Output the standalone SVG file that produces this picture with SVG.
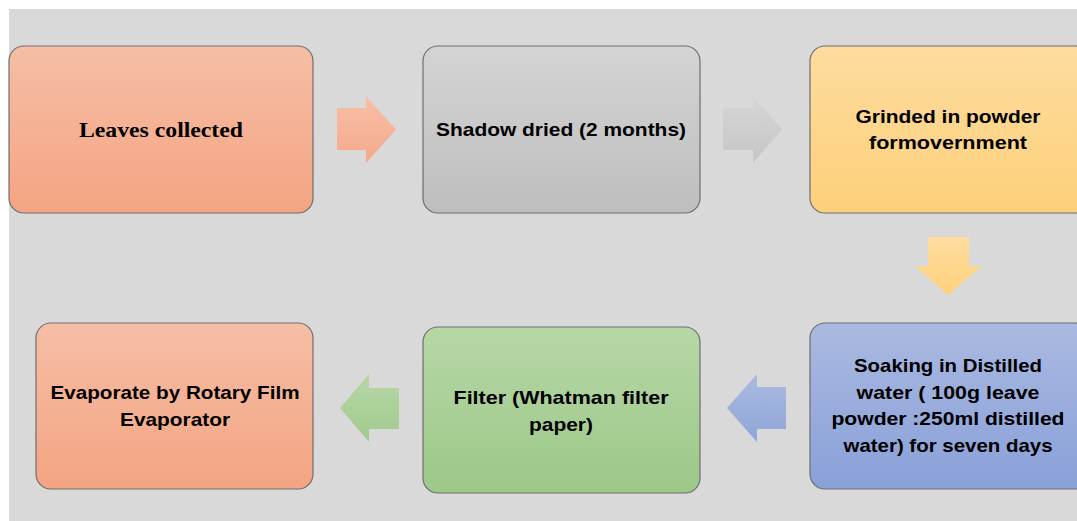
<svg xmlns="http://www.w3.org/2000/svg" width="1077" height="521" viewBox="0 0 1077 521">
<defs>
<linearGradient id="gSalmon" x1="0" y1="0" x2="0" y2="1"><stop offset="0" stop-color="#F6BEA6"/><stop offset="1" stop-color="#F4A482"/></linearGradient>
<linearGradient id="gGray" x1="0" y1="0" x2="0" y2="1"><stop offset="0" stop-color="#D4D4D4"/><stop offset="1" stop-color="#BEBEBE"/></linearGradient>
<linearGradient id="gYellow" x1="0" y1="0" x2="0" y2="1"><stop offset="0" stop-color="#FEDC9E"/><stop offset="1" stop-color="#FDD07A"/></linearGradient>
<linearGradient id="gBlue" x1="0" y1="0" x2="0" y2="1"><stop offset="0" stop-color="#AAB9E1"/><stop offset="1" stop-color="#89A0D8"/></linearGradient>
<linearGradient id="gGreen" x1="0" y1="0" x2="0" y2="1"><stop offset="0" stop-color="#B7D7A7"/><stop offset="1" stop-color="#9CC888"/></linearGradient>
<linearGradient id="aSalmon" x1="0" y1="0" x2="0" y2="1"><stop offset="0" stop-color="#F7BFA7"/><stop offset="1" stop-color="#F5A98A"/></linearGradient>
<linearGradient id="aGray" x1="0" y1="0" x2="0" y2="1"><stop offset="0" stop-color="#D6D6D6"/><stop offset="1" stop-color="#C6C6C6"/></linearGradient>
<linearGradient id="aYellow" x1="0" y1="0" x2="0" y2="1"><stop offset="0" stop-color="#FEDDA0"/><stop offset="1" stop-color="#FED07B"/></linearGradient>
<linearGradient id="aBlue" x1="0" y1="0" x2="0" y2="1"><stop offset="0" stop-color="#AABAE1"/><stop offset="1" stop-color="#8FA5D9"/></linearGradient>
<linearGradient id="aGreen" x1="0" y1="0" x2="0" y2="1"><stop offset="0" stop-color="#B7D7A7"/><stop offset="1" stop-color="#A0CA8C"/></linearGradient>
</defs>
<style>
.box{stroke:#6E6E6E;stroke-width:1.2}
.t{font-family:"Liberation Sans",Arial,sans-serif;font-weight:bold;font-size:19px;fill:#000;text-anchor:middle}
.tr{font-family:"Liberation Serif","Times New Roman",serif;font-weight:bold;font-size:21px;fill:#000;text-anchor:middle}
</style>
<rect x="0" y="0" width="1077" height="521" fill="#FFFFFF"/>
<rect x="9" y="9" width="1068" height="512" fill="#D9D9D9"/>

<g id="connectors">
<polygon points="337,108 366,108 366,96 396,129.5 366,163 366,150 337,150" fill="url(#aSalmon)"/>
<polygon points="723,108 753,108 753,96 782,129.5 753,163 753,150 723,150" fill="url(#aGray)"/>
<polygon points="928,237 969,237 969,266 982,266 948,295 915,266 928,266" fill="url(#aYellow)"/>
<polygon points="786,387 757,387 757,374 727,408 757,442 757,429 786,429" fill="url(#aBlue)"/>
<polygon points="399,388 369,388 369,374 340,408 369,442 369,429 399,429" fill="url(#aGreen)"/>
</g>

<g id="node-leaves">
<rect class="box" x="9" y="46" width="304" height="167" rx="15" fill="url(#gSalmon)"/>
<text class="tr" x="161" y="137" textLength="164" lengthAdjust="spacingAndGlyphs">Leaves collected</text>
</g>

<g id="node-shadow">
<rect class="box" x="423" y="46" width="277" height="167" rx="15" fill="url(#gGray)"/>
<text class="t" x="561" y="136" textLength="250" lengthAdjust="spacingAndGlyphs">Shadow dried (2 months)</text>
</g>

<g id="node-grind">
<rect class="box" x="810" y="46" width="280" height="167" rx="15" fill="url(#gYellow)"/>
<text class="t" x="948" y="123" textLength="185" lengthAdjust="spacingAndGlyphs">Grinded in powder</text>
<text class="t" x="948" y="149" textLength="158" lengthAdjust="spacingAndGlyphs">formovernment</text>
</g>

<g id="node-soak">
<rect class="box" x="810" y="323" width="280" height="166" rx="15" fill="url(#gBlue)"/>
<text class="t" x="948" y="372" textLength="188" lengthAdjust="spacingAndGlyphs">Soaking in Distilled</text>
<text class="t" x="948" y="399" textLength="183" lengthAdjust="spacingAndGlyphs">water ( 100g leave</text>
<text class="t" x="948" y="425" textLength="233" lengthAdjust="spacingAndGlyphs">powder :250ml distilled</text>
<text class="t" x="948" y="452" textLength="209" lengthAdjust="spacingAndGlyphs">water) for seven days</text>
</g>

<g id="node-filter">
<rect class="box" x="423" y="327" width="277" height="166" rx="15" fill="url(#gGreen)"/>
<text class="t" x="561" y="404" textLength="215" lengthAdjust="spacingAndGlyphs">Filter (Whatman filter</text>
<text class="t" x="561" y="431" textLength="64" lengthAdjust="spacingAndGlyphs">paper)</text>
</g>

<g id="node-evaporate">
<rect class="box" x="36" y="323" width="277" height="166" rx="15" fill="url(#gSalmon)"/>
<text class="t" x="175" y="399" textLength="249" lengthAdjust="spacingAndGlyphs">Evaporate by Rotary Film</text>
<text class="t" x="175" y="426" textLength="110" lengthAdjust="spacingAndGlyphs">Evaporator</text>
</g>
</svg>
